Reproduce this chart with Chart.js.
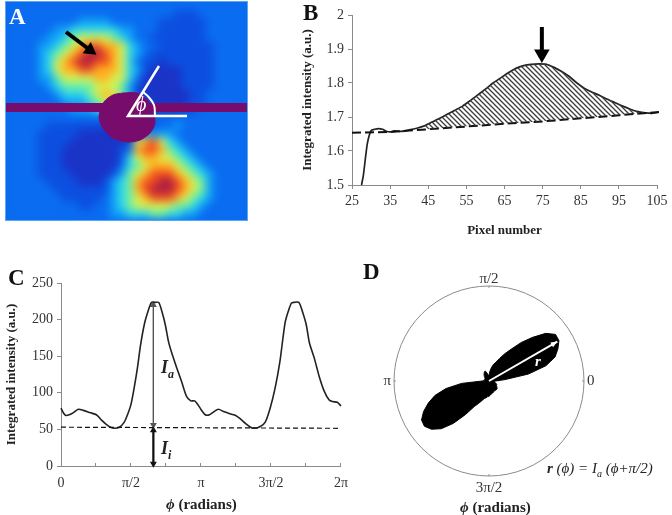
<!DOCTYPE html>
<html>
<head>
<meta charset="utf-8">
<title>Integrated intensity panels</title>
<script src="https://cdn.jsdelivr.net/npm/chart.js@4/dist/chart.umd.min.js"></script>
<style>
    html, body { margin: 0; padding: 0; background: #fff; }
    #page { position: relative; width: 672px; height: 515px; overflow: hidden; font-family: 'Liberation Serif', serif; color: #222; }
    #page canvas { position: absolute; }
    .box { position: absolute; }
    .txt { position: absolute; white-space: nowrap; line-height: 1; }
    .letter { font-size: 23px; font-weight: bold; color: #111; }
    #heatBox { left: 6px; top: 2px; width: 241px; height: 218px; overflow: hidden; background: #0a6cf0; outline: 1px solid #5aa8f0; }
    #heatBox canvas { filter: blur(4px); }
</style>
</head>
<body>
<div id="page">
    <div class="box" id="heatBox"><canvas id="heatCanvas"></canvas></div>
    <canvas id="markCanvas" style="left:6px;top:2px"></canvas>
    <canvas id="pixelCanvas" style="left:300px;top:0"></canvas>
    <canvas id="phiCanvas" style="left:0;top:270px"></canvas>
    <canvas id="polarCanvas" style="left:374px;top:266px"></canvas>

    <div class="txt letter" style="left:9px;top:5px;color:#fff">A</div>
    <div class="txt letter" style="left:303px;top:1px">B</div>
    <div class="txt letter" style="left:8px;top:266px">C</div>
    <div class="txt letter" style="left:363px;top:260px">D</div>

    <div class="txt" style="left:136px;top:94px;color:#fff;font-size:20px;font-style:italic">&#981;</div>
    <div class="txt" style="left:161px;top:358px;font-size:18px;font-weight:bold;font-style:italic">I<sub style="font-size:12px">a</sub></div>
    <div class="txt" style="left:161px;top:439px;font-size:18px;font-weight:bold;font-style:italic">I<sub style="font-size:12px">i</sub></div>
    <div class="txt" style="left:166px;top:497px;font-size:15px;font-weight:bold"><i>&#981;</i> (radians)</div>
    <div class="txt" style="left:535px;top:354px;color:#fff;font-size:15px;font-weight:bold;font-style:italic">r</div>
    <div class="txt" style="left:547px;top:461px;font-size:15px;font-style:italic"><b>r</b> (&#981;) = I<sub style="font-size:10px">a</sub> (&#981;+&#960;/2)</div>
    <div class="txt" style="left:460px;top:500px;font-size:15px;font-weight:bold"><i>&#981;</i> (radians)</div>
</div>

<script>
/* ── Panel A: detector image, one digit per 8px cell ── */
const heatRows = [
    '222222222222222222222222222222',
    '222222222222222222222111222222',
    '222222222333322222211111122222',
    '222222334444443322211111122222',
    '222223345666654322111111122222',
    '222233456788776432211111112222',
    '222234567899876432111111112222',
    '222234678998876421101111112222',
    '222234677887776431000011112222',
    '222233566667766420000011112222',
    '222223455556665310000011112222',
    '222222344456765300000001122222',
    '222222233345677521000001122222',
    '222222223334556731000011222222',
    '222222222222222222222222222222',
    '222221111111000000122322222222',
    '222211111000000013333222222222',
    '222211110000000167864322222222',
    '222211100000001278875432222222',
    '222211100000001467766543222222',
    '222211100000002456777654322222',
    '222211110000013567888765432222',
    '222221111000134578899876532222',
    '222222111111134578999876532222',
    '222222211111234567888765432222',
    '222222222112234566666554322222',
    '222222222222233444554433222222'
];
const heatColors = ['#1a34c8', '#0c4fe0', '#0a6cf0', '#10a0f8', '#30d8e8', '#70f0a0', '#d8f050', '#ffb020', '#f05020', '#b02040'];

const beamDiscX = [123, 137, 147, 153, 155, 150, 140, 127, 113, 103, 99, 104, 113, 123];
const beamDiscY = [93, 93, 100, 113, 123, 133, 140, 142, 138, 128, 117, 102, 95, 93];
const stopBarX = [6, 247];
const stopBarY = [107.5, 107.5];
const angleArmX = [187, 128, 159];
const angleArmY = [116, 116, 66];
const angleArcX = [155, 154, 148.3, 142.7];
const angleArcY = [116, 105, 96.7, 91.7];
const peakArrowX = [66, 90];
const peakArrowY = [32, 50];

/* ── Panel B: radial profile ── */
const pixelNumbers = [27.5, 28, 29, 30, 31, 32, 33, 34, 35, 36, 38, 40, 42, 44, 46, 48, 50, 52, 54, 56, 58, 60, 62, 64, 66, 68, 70, 72, 74, 76, 78, 80, 82, 84, 86, 88, 90, 92, 94, 96, 98, 100, 102, 104, 105.5];
const profileValues = [1.5, 1.53, 1.62, 1.66, 1.664, 1.666, 1.664, 1.658, 1.656, 1.659, 1.658, 1.662, 1.667, 1.674, 1.685, 1.696, 1.708, 1.72, 1.732, 1.748, 1.765, 1.782, 1.8, 1.815, 1.83, 1.843, 1.851, 1.855, 1.856, 1.855, 1.846, 1.834, 1.819, 1.8, 1.784, 1.773, 1.763, 1.752, 1.742, 1.732, 1.723, 1.716, 1.712, 1.711, 1.714];
const baselineX = [25, 35, 45, 55, 65, 75, 85, 95, 105.5];
const baselineY = [1.654, 1.656, 1.664, 1.672, 1.68, 1.687, 1.696, 1.705, 1.715];
const pixelTicks = [25, 35, 45, 55, 65, 75, 85, 95, 105];
const profileTicks = [1.5, 1.6, 1.7, 1.8, 1.9, 2];
const profileArrowX = [74.8, 74.8];
const profileArrowY = [1.965, 1.885];

/* ── Panel C: azimuthal profile, phi in units of pi ── */
const phiValues = [0, 0.019, 0.035, 0.059, 0.089, 0.124, 0.159, 0.206, 0.253, 0.288, 0.323, 0.358, 0.382, 0.417, 0.452, 0.475, 0.499, 0.522, 0.546, 0.569, 0.597, 0.621, 0.646, 0.674, 0.698, 0.721, 0.745, 0.768, 0.792, 0.827, 0.862, 0.897, 0.927, 0.955, 0.979, 1.002, 1.03, 1.061, 1.091, 1.124, 1.166, 1.213, 1.248, 1.283, 1.319, 1.354, 1.382, 1.424, 1.459, 1.494, 1.529, 1.564, 1.6, 1.623, 1.646, 1.665, 1.7, 1.728, 1.752, 1.775, 1.81, 1.845, 1.881, 1.916, 1.939, 1.974, 2];
const intensityValues = [79, 72, 69, 70, 73, 77.5, 76, 73, 70, 63, 57, 52.5, 51.5, 53, 60, 70, 83.5, 106, 134, 166, 195, 211, 223.5, 223.5, 223.5, 211, 193, 170, 154, 134, 115, 95, 89, 89, 83.5, 76.6, 70, 70, 74, 77.5, 74, 71, 69, 64, 58, 53, 51.5, 54, 60, 79, 106, 143, 195, 211, 222.5, 223.5, 223.5, 209, 193, 168, 147, 122, 102, 90, 88, 87, 82];
const isotropicX = [0, 2];
const isotropicY = [53, 51.5];
const phiTicks = [0, 0.25, 0.5, 0.75, 1, 1.25, 1.5, 1.75, 2];
const phiTickLabels = ['0', '', '\u03c0/2', '', '\u03c0', '', '3\u03c0/2', '', '2\u03c0'];
const intensityTicks = [0, 50, 100, 150, 200, 250];
const anisoArrowX = [0.66, 0.66];
const anisoArrowY = [220, 56];
const isoArrowX = [0.66, 0.66];
const isoArrowY = [49, 3];

/* ── Panel D: polar plot, 5 degree spokes clockwise from pi/2 ── */
const polarLabels = ['\u03c0/2', '', '', '', '', '', '', '', '', '', '', '', '', '', '', '', '', '', '0', '', '', '', '', '', '', '', '', '', '', '', '', '', '', '', '', '', '3\u03c0/2', '', '', '', '', '', '', '', '', '', '', '', '', '', '', '', '', '', '\u03c0', '', '', '', '', '', '', '', '', '', '', '', '', '', '', '', '', ''];
const polarRadius = [
    0.06, 0.10, 0.14, 0.18, 0.21, 0.26, 0.33, 0.41, 0.53, 0.65, 0.78, 0.855,
    0.85, 0.80, 0.74, 0.62, 0.42, 0.17, 0.07, 0.06, 0.06, 0.07, 0.08, 0.09,
    0.09, 0.10, 0.11, 0.12, 0.12, 0.12, 0.12, 0.12, 0.13, 0.13, 0.14, 0.15,
    0.16, 0.165, 0.18, 0.19, 0.22, 0.26, 0.31, 0.43, 0.58, 0.71, 0.79, 0.83,
    0.82, 0.76, 0.68, 0.59, 0.46, 0.29, 0.07, 0.06, 0.05, 0.05, 0.05, 0.05,
    0.05, 0.05, 0.06, 0.07, 0.08, 0.09, 0.10, 0.11, 0.11, 0.09, 0.07, 0.06
];
const radiusArrowSpoke = 12;
const radiusArrowEnd = 0.83;
const cardinalSpokes = [0, 18, 36, 54];

const SERIF = "'Liberation Serif', serif";
const AXIS_GRAY = '#8a8a8a';
const TEXT_GRAY = '#333';

function pairs(xs, ys) {
    return xs.map((x, i) => ({ x: x, y: ys[i] }));
}

function sizeCanvas(id, w, h) {
    const c = document.getElementById(id);
    c.width = w;
    c.height = h;
    c.style.width = w + 'px';
    c.style.height = h + 'px';
    return c;
}

function fixedAxis(size, min, max, ticks, extra) {
    // shared look of the cartesian axes; size pins the plot area in place
    return Object.assign({
        type: 'linear',
        min: min,
        max: max,
        afterBuildTicks: scale => { scale.ticks = ticks.map(v => ({ value: v })); },
        afterFit: scale => {
            if (scale.isHorizontal()) scale.height = size;
            else scale.width = size;
        },
        border: { color: AXIS_GRAY, width: 1 },
        grid: { drawOnChartArea: false, color: AXIS_GRAY, tickLength: 4 },
        ticks: {
            color: TEXT_GRAY,
            font: { family: SERIF, size: 14 },
            autoSkip: false,
            maxRotation: 0,
            padding: 4,
            callback: v => String(v)
        }
    }, extra);
}

function axisTitle(text, size, padding) {
    return {
        display: true,
        text: text,
        color: '#222',
        font: { family: SERIF, size: size, weight: 'bold' },
        padding: padding
    };
}

function baseOptions(padding, scales) {
    return {
        responsive: false,
        animation: false,
        layout: { padding: padding, autoPadding: false },
        plugins: { legend: { display: false }, tooltip: { enabled: false } },
        scales: scales
    };
}

function arrowSet(data, color, width, headSize, headAngle) {
    // shaft plus a triangle at the last point
    const last = data.length - 1;
    return {
        data: data,
        showLine: true,
        borderColor: color,
        backgroundColor: color,
        borderWidth: width,
        pointRadius: data.map((_, i) => (i === last ? headSize : 0)),
        pointStyle: 'triangle',
        pointRotation: headAngle,
        pointBorderWidth: 0,
        clip: false
    };
}

function hatchPattern() {
    const tile = document.createElement('canvas');
    tile.width = 5;
    tile.height = 5;
    const ctx = tile.getContext('2d');
    ctx.strokeStyle = '#3c3c3c';
    ctx.lineWidth = 1.3;
    ctx.beginPath();
    ctx.moveTo(-1, -1);
    ctx.lineTo(6, 6);
    ctx.moveTo(3, -2);
    ctx.lineTo(7, 2);
    ctx.moveTo(-2, 3);
    ctx.lineTo(2, 7);
    ctx.stroke();
    return ctx.createPattern(tile, 'repeat');
}

/* ── Panel A ── */
function drawHeatPanel() {
    const cells = [];
    heatRows.forEach((row, r) => {
        row.split('').forEach((c, col) => cells.push({ x: col, y: r, level: Number(c) }));
    });
    new Chart(sizeCanvas('heatCanvas', 241, 218), {
        type: 'scatter',
        data: {
            datasets: [{
                data: cells,
                pointStyle: 'rect',
                pointRadius: 6,
                pointBorderWidth: 0,
                backgroundColor: ctx => heatColors[ctx.raw.level]
            }]
        },
        options: baseOptions(0, {
            x: { display: false, min: -0.5, max: 29.625 },
            y: { display: false, min: -0.5, max: 26.75, reverse: true }
        })
    });

    // first dataset ends up on top
    const purple = '#780c6c';
    new Chart(sizeCanvas('markCanvas', 241, 218), {
        type: 'scatter',
        data: {
            datasets: [
                arrowSet(pairs(peakArrowX, peakArrowY), '#000', 4, 8, 126),
                { data: pairs(angleArcX, angleArcY), showLine: true, borderColor: '#fff', borderWidth: 2, pointRadius: 0, tension: 0.4 },
                { data: pairs(angleArmX, angleArmY), showLine: true, borderColor: '#fff', borderWidth: 2.5, pointRadius: 0 },
                { data: pairs(beamDiscX, beamDiscY), showLine: true, borderColor: purple, backgroundColor: purple, fill: 'shape', borderWidth: 1, pointRadius: 0, tension: 0.3 },
                { data: pairs(stopBarX, stopBarY), showLine: true, borderColor: purple, borderWidth: 9, pointRadius: 0, borderCapStyle: 'butt' }
            ]
        },
        options: baseOptions(0, {
            x: { display: false, min: 6, max: 247 },
            y: { display: false, min: 2, max: 220, reverse: true }
        })
    });
}

/* ── Panel B ── */
function drawProfilePanel() {
    const hatchFrom = pixelNumbers.indexOf(44);
    const hatchTo = pixelNumbers.indexOf(102);
    const profile = pairs(pixelNumbers, profileValues);
    new Chart(sizeCanvas('pixelCanvas', 372, 245), {
        type: 'scatter',
        data: {
            datasets: [
                {
                    data: profile.slice(hatchFrom, hatchTo + 1),
                    showLine: true,
                    borderWidth: 0,
                    pointRadius: 0,
                    fill: { target: 1, above: hatchPattern(), below: 'rgba(0,0,0,0)' }
                },
                { data: pairs(baselineX, baselineY), showLine: true, borderColor: '#111', borderWidth: 2, borderDash: [9, 4], pointRadius: 0, clip: false },
                { data: profile, showLine: true, borderColor: '#222', borderWidth: 1.7, pointRadius: 0, tension: 0.2, clip: false },
                arrowSet(pairs(profileArrowX, profileArrowY), '#000', 4, 9, 180)
            ]
        },
        options: baseOptions({ top: 15, right: 15 }, {
            x: fixedAxis(60, 25, 105, pixelTicks, { title: axisTitle('Pixel number', 13, { top: 0, bottom: 7 }) }),
            y: fixedAxis(52, 1.5, 2, profileTicks, { title: axisTitle('Integrated intensity (a.u.)', 13, { top: 0, bottom: 2 }) })
        })
    });
}

/* ── Panel C ── */
function drawPhiPanel() {
    new Chart(sizeCanvas('phiCanvas', 360, 245), {
        type: 'scatter',
        data: {
            datasets: [
                { data: pairs(isotropicX, isotropicY), showLine: true, borderColor: '#111', borderWidth: 1.2, borderDash: [5, 3], pointRadius: 0 },
                { data: pairs(phiValues, intensityValues), showLine: true, borderColor: '#222', borderWidth: 1.6, pointRadius: 0, tension: 0.25, clip: false },
                arrowSet(pairs(anisoArrowX, anisoArrowY), '#555', 1.2, 4, 180),
                arrowSet(pairs(anisoArrowX, anisoArrowY.slice().reverse()), '#555', 1.2, 4, 0),
                arrowSet(pairs(isoArrowX, isoArrowY), '#111', 1.8, 4, 180),
                arrowSet(pairs(isoArrowX, isoArrowY.slice().reverse()), '#111', 1.8, 4, 0)
            ]
        },
        options: baseOptions({ top: 13, right: 15 }, {
            x: fixedAxis(49, 0, 2, phiTicks, {
                grid: { drawOnChartArea: false, color: AXIS_GRAY, tickLength: -3 },
                ticks: {
                    color: TEXT_GRAY,
                    font: { family: SERIF, size: 14 },
                    autoSkip: false,
                    maxRotation: 0,
                    padding: 12,
                    callback: (v, i) => phiTickLabels[i]
                }
            }),
            y: fixedAxis(61, 0, 250, intensityTicks, { title: axisTitle('Integrated intensity (a.u.)', 13, { top: 4, bottom: 2 }) })
        })
    });
}

/* ── Panel D ── */
const polarMarks = {
    id: 'polarMarks',
    afterDatasetsDraw(chart) {
        const r = chart.scales.r;
        const ctx = chart.ctx;
        ctx.save();
        ctx.strokeStyle = AXIS_GRAY;
        ctx.lineWidth = 1;
        cardinalSpokes.forEach(i => {
            const a = r.getPointPositionForValue(i, 1);
            const b = r.getPointPositionForValue(i, 0.98);
            ctx.beginPath();
            ctx.moveTo(a.x, a.y);
            ctx.lineTo(b.x, b.y);
            ctx.stroke();
        });
        // white radius arrow
        const from = r.getPointPositionForValue(radiusArrowSpoke, 0);
        const to = r.getPointPositionForValue(radiusArrowSpoke, radiusArrowEnd);
        const ang = Math.atan2(to.y - from.y, to.x - from.x);
        ctx.strokeStyle = '#fff';
        ctx.fillStyle = '#fff';
        ctx.lineWidth = 2;
        ctx.beginPath();
        ctx.moveTo(from.x, from.y);
        ctx.lineTo(to.x, to.y);
        ctx.stroke();
        ctx.beginPath();
        ctx.moveTo(to.x, to.y);
        ctx.lineTo(to.x - 7 * Math.cos(ang - 0.4), to.y - 7 * Math.sin(ang - 0.4));
        ctx.lineTo(to.x - 7 * Math.cos(ang + 0.4), to.y - 7 * Math.sin(ang + 0.4));
        ctx.closePath();
        ctx.fill();
        ctx.restore();
    }
};

function drawPolarPanel() {
    new Chart(sizeCanvas('polarCanvas', 230, 232), {
        type: 'radar',
        data: {
            labels: polarLabels,
            datasets: [{
                data: polarRadius,
                borderColor: '#000',
                backgroundColor: '#000',
                borderWidth: 1,
                fill: true,
                pointRadius: 0
            }]
        },
        options: {
            responsive: false,
            animation: false,
            plugins: { legend: { display: false }, tooltip: { enabled: false } },
            scales: {
                r: {
                    min: 0,
                    max: 1,
                    ticks: { display: false, stepSize: 1 },
                    grid: { circular: true, color: AXIS_GRAY, lineWidth: 1 },
                    angleLines: { display: false },
                    pointLabels: {
                        color: TEXT_GRAY,
                        font: { family: SERIF, size: 15 },
                        padding: ctx => (ctx.index === 0 ? -2 : 3)
                    }
                }
            }
        },
        plugins: [polarMarks]
    });
}

drawHeatPanel();
drawProfilePanel();
drawPhiPanel();
drawPolarPanel();
</script>
</body>
</html>
